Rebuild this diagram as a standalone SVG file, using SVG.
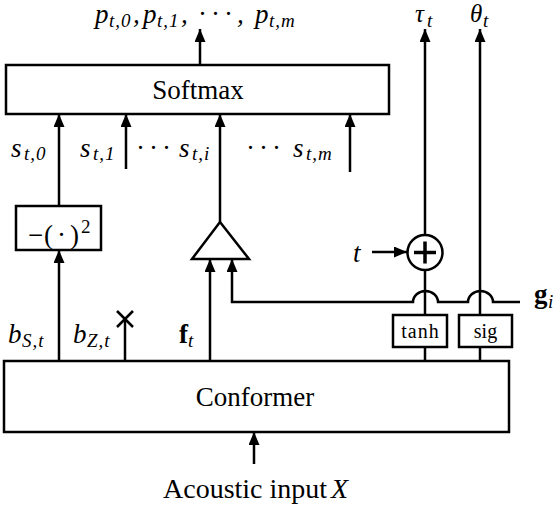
<svg xmlns="http://www.w3.org/2000/svg" width="560" height="506" viewBox="0 0 560 506" font-family="'Liberation Serif','DejaVu Serif',serif">
<style>
.box{fill:#fff;stroke:#000;stroke-width:2.5}
.ln{fill:none;stroke:#000;stroke-width:2.5}
.arr{fill:none;stroke:#000;stroke-width:2.5;marker-end:url(#ah)}
text{font-family:"Liberation Serif","DejaVu Serif",serif;fill:#000}
.lbl{font-size:27px}
.mi{font-size:27px;font-style:italic}
.sub{font-size:19px;font-style:italic;letter-spacing:1px}
.subr{font-size:19px}
.small{font-size:20px}
.bf{font-size:27px;font-weight:bold}
.dots{font-size:27px;letter-spacing:4px}
</style>
<defs>
<marker id="ah" markerUnits="userSpaceOnUse" markerWidth="13" markerHeight="11" refX="13" refY="5.5" orient="auto">
<path d="M0,0 L13,5.5 L0,11 z" fill="#000"/>
</marker>
</defs>
<rect width="560" height="506" fill="#fff"/>

<g id="connectors">
<line class="arr" x1="200" y1="65" x2="200" y2="29"/>
<line class="arr" x1="59" y1="206" x2="59" y2="114"/>
<line class="arr" x1="126" y1="169" x2="126" y2="114"/>
<line class="arr" x1="220" y1="222" x2="220" y2="114"/>
<line class="arr" x1="350" y1="172" x2="350" y2="114"/>
<line class="arr" x1="59" y1="361" x2="59" y2="250"/>
<line class="ln" x1="125" y1="361" x2="125" y2="319"/>
<path class="ln" d="M117,311 L133,327 M133,311 L117,327"/>
<line class="arr" x1="210" y1="361" x2="210" y2="259"/>
<path class="arr" d="M520,302 L493,302 A12.5,11 0 0 0 468,302 L438,302 A12.5,11 0 0 0 413,302 L232,302 L232,259"/>
<line class="arr" x1="372" y1="252" x2="407" y2="252"/>
<line class="ln" x1="425" y1="361" x2="425" y2="347"/>
<line class="ln" x1="425" y1="315" x2="425" y2="270"/>
<line class="arr" x1="425" y1="235" x2="425" y2="29"/>
<line class="ln" x1="480" y1="361" x2="480" y2="347"/>
<line class="arr" x1="480" y1="315" x2="480" y2="29"/>
<line class="arr" x1="254" y1="464" x2="254" y2="432"/>
</g>

<g id="softmax">
<rect class="box" x="6" y="65" width="383" height="49"/>
<text class="lbl" x="198" y="99" text-anchor="middle">Softmax</text>
</g>

<g id="square">
<rect class="box" x="16" y="206" width="85" height="44"/>
<text font-size="27" y="244"><tspan x="28">−</tspan><tspan x="44">(</tspan><tspan x="57">·</tspan><tspan x="70">)</tspan></text>
<text class="subr" x="81" y="233">2</text>
</g>

<g id="amp">
<polygon class="box" points="220,222 249,259 192,259"/>
</g>

<g id="plus">
<circle class="box" cx="425" cy="252.5" r="17.5"/>
<path d="M414,252.5 H436 M425,241.5 V263.5" stroke="#000" stroke-width="3.5" fill="none"/>
</g>

<g id="tanh">
<rect class="box" x="393" y="315" width="54" height="32"/>
<text class="small" x="420.5" y="338" text-anchor="middle" letter-spacing="1">tanh</text>
</g>

<g id="sig">
<rect class="box" x="459" y="315" width="53" height="32"/>
<text class="small" x="485.5" y="338" text-anchor="middle">sig</text>
</g>

<g id="conformer">
<rect class="box" x="4" y="361" width="505" height="71"/>
<text class="lbl" x="255" y="406" text-anchor="middle">Conformer</text>
</g>

<g id="labels">
<text class="mi" x="95" y="23">p</text><text class="sub" x="109" y="27">t,0</text><text class="mi" x="133" y="23">,</text>
<text class="mi" x="143" y="23">p</text><text class="sub" x="157" y="27">t,1</text><text class="mi" x="181" y="23">,</text>
<text class="dots" x="198" y="23">···</text>
<text class="mi" x="237" y="23">,</text>
<text class="mi" x="255" y="23">p</text><text class="sub" x="269" y="27">t,m</text>

<text class="mi" x="415" y="22" font-size="25" style="font-size:25px">τ</text><text class="sub" x="427" y="27">t</text>
<text class="mi" x="470" y="22" style="font-size:25px">θ</text><text class="sub" x="483" y="27">t</text>

<text class="mi" x="11" y="157">s</text><text class="sub" x="24" y="160">t,0</text>
<text class="mi" x="80" y="157">s</text><text class="sub" x="93" y="160">t,1</text>
<text class="dots" x="136" y="157">···</text>
<text class="mi" x="179" y="157">s</text><text class="sub" x="192" y="160">t,i</text>
<text class="dots" x="246" y="157">···</text>
<text class="mi" x="293" y="157">s</text><text class="sub" x="306" y="160">t,m</text>

<text class="mi" x="353" y="262">t</text>
<text class="bf" x="534" y="303">g</text><text class="sub" x="548" y="308">i</text>

<text class="mi" x="8" y="343">b</text><text class="sub" x="22" y="347">S,t</text>
<text class="mi" x="73" y="343">b</text><text class="sub" x="87" y="347">Z,t</text>
<text class="bf" x="179" y="343">f</text><text class="sub" x="188" y="347">t</text>

<text x="163" y="498" font-size="28">Acoustic input<tspan font-style="italic" dx="4">X</tspan></text>
</g>
</svg>
